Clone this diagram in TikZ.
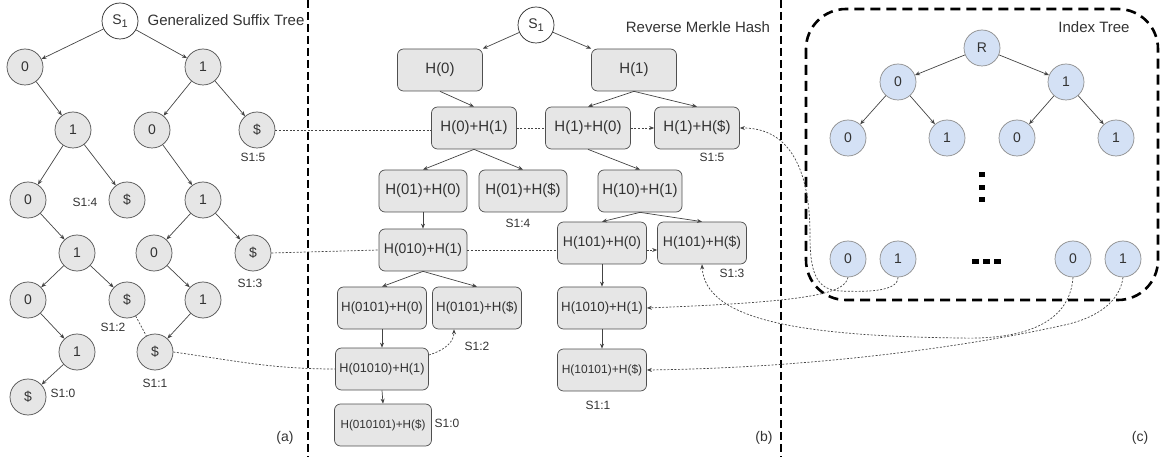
\documentclass[tikz,border=0pt]{standalone}
\usepackage{fontspec}
\setmainfont{Liberation Sans}
\usetikzlibrary{arrows.meta}
\definecolor{txt}{HTML}{333333}
\definecolor{grayfill}{HTML}{E6E6E6}
\definecolor{grayline}{HTML}{4F4F4F}
\definecolor{bluefill}{HTML}{D4E1F5}
\definecolor{blueline}{HTML}{8C8C8C}
\definecolor{edgecol}{HTML}{444444}
\definecolor{linkcol}{HTML}{444444}
\newcommand{\subone}{S\raisebox{-0.35ex}{\fontsize{11}{11}\selectfont 1}}
\begin{document}
\begin{tikzpicture}[x=1pt,y=-1pt,
  cnode/.style={circle, draw=grayline, fill=grayfill, line width=0.7pt,
    minimum size=36pt, inner sep=0pt, text=txt, font=\fontsize{14}{16}\selectfont},
  snode/.style={cnode, fill=white, draw=black!85},
  bnode/.style={cnode, fill=bluefill, draw=blueline},
  hbox/.style={rectangle, rounded corners=6pt, draw=grayline, fill=grayfill,
    line width=0.7pt, minimum height=42pt, inner sep=0pt, text=txt},
  hb/.style 2 args={hbox, minimum width=#1pt, font=\fontsize{#2}{#2}\selectfont},
  tedge/.style={draw=edgecol, line width=0.7pt, -{Stealth[length=5pt,width=4pt]}},
  dlink/.style={draw=linkcol, line width=0.7pt, dash pattern=on 2pt off 1.6pt},
  dlinkarrow/.style={dlink, -{Stealth[length=5pt,width=4pt]}},
  lbl/.style={font=\fontsize{12}{14}\selectfont, text=txt, inner sep=0pt},
  ttl/.style={font=\fontsize{15}{18}\selectfont, text=txt, inner sep=0pt},
  sep/.style={line width=2.6pt, dash pattern=on 8pt off 4pt}
]
\useasboundingbox (0,0) rectangle (1160,457);

% panel separators
\draw[sep] (308,0) -- (308,457);
\draw[sep] (781,0) -- (781,457);

% ---------- (a) generalized suffix tree ----------
\node[snode] (aS) at (120,21) {\subone};
\node[cnode] (a0) at (25,67) {0};
\node[cnode] (a1) at (203,67) {1};
\node[cnode] (a01) at (73,130) {1};
\node[cnode] (a10) at (152,130) {0};
\node[cnode] (a1d) at (257,130) {\$};
\node[cnode] (a010) at (28,200) {0};
\node[cnode] (a01d) at (127,200) {\$};
\node[cnode] (a101) at (203,200) {1};
\node[cnode] (a0101) at (77,253) {1};
\node[cnode] (a1010) at (154,253) {0};
\node[cnode] (a101d) at (253,253) {\$};
\node[cnode] (a01010) at (28,300) {0};
\node[cnode] (a0101d) at (127,300) {\$};
\node[cnode] (a10101) at (203,300) {1};
\node[cnode] (a010101) at (77,352) {1};
\node[cnode] (a10101d) at (155,352) {\$};
\node[cnode] (a010101d) at (28,397) {\$};

\node[ttl] (atitle) at (226,20) {Generalized Suffix Tree};
\node[lbl] (la4) at (85,202) {S1:4};
\node[lbl] (la5) at (253,157) {S1:5};
\node[lbl] (la3) at (250,283) {S1:3};
\node[lbl] (la2) at (113,327) {S1:2};
\node[lbl] (la1) at (155,383) {S1:1};
\node[lbl] (la0) at (63,393) {S1:0};
\node[font=\fontsize{14}{16}\selectfont, text=txt] (pa) at (285,438) {(a)};

\draw[tedge] (aS) -- (a0);
\draw[tedge] (aS) -- (a1);
\draw[tedge] (a0) -- (a01);
\draw[tedge] (a1) -- (a10);
\draw[tedge] (a1) -- (a1d);
\draw[tedge] (a01) -- (a010);
\draw[tedge] (a01) -- (a01d);
\draw[tedge] (a10) -- (a101);
\draw[tedge] (a010) -- (a0101);
\draw[tedge] (a101) -- (a1010);
\draw[tedge] (a101) -- (a101d);
\draw[tedge] (a0101) -- (a01010);
\draw[tedge] (a0101) -- (a0101d);
\draw[tedge] (a1010) -- (a10101);
\draw[tedge] (a01010) -- (a010101);
\draw[tedge] (a10101) -- (a10101d);
\draw[tedge] (a010101) -- (a010101d);
\draw[dlink] (a0101d) -- (a10101d);

% ---------- (b) reverse Merkle hash ----------
\node[snode] (bS) at (536,25) {\subone};
\node[hb={85}{15}] (h0) at (440,70) {H(0)};
\node[hb={85}{15}] (h1) at (634,70) {H(1)};
\node[hb={85}{15}] (h01) at (474,128) {H(0)+H(1)};
\node[hb={85}{15}] (h10) at (588,128) {H(1)+H(0)};
\node[hb={85}{15}] (h1d) at (697,128) {H(1)+H(\$)};
\node[hb={88}{15}] (h010) at (423,191) {H(01)+H(0)};
\node[hb={88}{15}] (h01d) at (523,191) {H(01)+H(\$)};
\node[hb={84}{15}] (h101) at (640,191) {H(10)+H(1)};
\node[hb={88}{14}] (h0101) at (423,250) {H(010)+H(1)};
\node[hb={89}{14}] (h1010) at (602,243) {H(101)+H(0)};
\node[hb={89}{14}] (h101d) at (702,243) {H(101)+H(\$)};
\node[hb={89}{13.3}] (h01010) at (382,308) {H(0101)+H(0)};
\node[hb={89}{13.3}] (h0101d) at (477,308) {H(0101)+H(\$)};
\node[hb={93}{12.7}] (h010101) at (382,369) {H(01010)+H(1)};
\node[hb={97}{11.7}] (h010101d) at (383,425) {H(010101)+H(\$)};
\node[hb={89}{13.3}] (h10101) at (602,308) {H(1010)+H(1)};
\node[hb={89}{12}] (h10101d) at (602,370) {H(10101)+H(\$)};

\node[ttl] (btitle) at (698,27) {Reverse Merkle Hash};
\node[lbl] (lb5) at (712,157) {S1:5};
\node[lbl] (lb4) at (518,223) {S1:4};
\node[lbl] (lb3) at (732,273) {S1:3};
\node[lbl] (lb2) at (477,346) {S1:2};
\node[lbl] (lb1) at (598,405) {S1:1};
\node[lbl] (lb0) at (447,423) {S1:0};
\node[font=\fontsize{14}{16}\selectfont, text=txt] (pb) at (764,438) {(b)};

\draw[tedge] (bS) -- (h0.north east);
\draw[tedge] (bS) -- (h1.north west);
\draw[tedge] (h0.south) -- (h01.north);
\draw[tedge] (h1.south) -- (h10.north);
\draw[tedge] (h1.south) -- (h1d.north);
\draw[tedge] (h01.south) -- (h010.north);
\draw[tedge] (h01.south) -- (h01d.north);
\draw[tedge] (h10.south) -- (h101.north);
\draw[tedge] (h010.south) -- (h0101.north);
\draw[tedge] (h101.south) -- (h1010.north);
\draw[tedge] (h101.south) -- (h101d.north);
\draw[tedge] (h0101.south) -- (h01010.north);
\draw[tedge] (h0101.south) -- (h0101d.north);
\draw[tedge] (h01010.south) -- (h010101.north);
\draw[tedge] (h010101.south) -- (h010101d.north);
\draw[tedge] (h1010.south) -- (h10101.north);
\draw[tedge] (h10101.south) -- (h10101d.north);

% ---------- (c) index tree ----------
\draw[line width=2.6pt, dash pattern=on 10pt off 6pt, rounded corners=40pt]
  (806,9) rectangle (1158,300);
\node[bnode] (cR) at (982,48) {R};
\node[bnode] (c0) at (898,82) {0};
\node[bnode] (c1) at (1066,82) {1};
\node[bnode] (c00) at (848,138) {0};
\node[bnode] (c01) at (947,138) {1};
\node[bnode] (c10) at (1017,138) {0};
\node[bnode] (c11) at (1116,138) {1};
\node[bnode] (d0) at (848,259) {0};
\node[bnode] (d1) at (898,259) {1};
\node[bnode] (e0) at (1073,259) {0};
\node[bnode] (e1) at (1123,259) {1};
\node[ttl] (ctitle) at (1094,27) {Index Tree};
\node[font=\fontsize{14}{16}\selectfont, text=txt] (pc) at (1140,438) {(c)};

\draw[tedge] (cR) -- (c0);
\draw[tedge] (cR) -- (c1);
\draw[tedge] (c0) -- (c00);
\draw[tedge] (c0) -- (c01);
\draw[tedge] (c1) -- (c10);
\draw[tedge] (c1) -- (c11);

% ellipsis marks
\foreach \yy in {175,188,200} \fill (979,\yy-2.5) rectangle (985,\yy+2.5);
\foreach \xx in {975,986,997} \fill (\xx-3.5,259.5) rectangle (\xx+3.5,264.5);

% ---------- dotted cross links ----------
\draw[dlink] (a1d.east) -- (h01.west |- a1d.east);
\draw[dlink] (h01.east) -- (h10.west);
\draw[dlinkarrow] (h10.east) -- (h1d.west);

\draw[dlink] (a101d.east) -- (h0101.west);
\draw[dlink] (h0101.east) -- (h0101.east -| h1010.west);
\draw[dlinkarrow] (h0101.east -| h1010.east) -- (h0101.east -| h101d.west);

\draw[dlink] (a10101d.east) to[out=-8,in=180] (h010101.west);
\draw[dlinkarrow] ([yshift=14pt]h010101.east) .. controls (445,350) and (454,342) .. ([xshift=-23pt]h0101d.south);

\draw[dlinkarrow] (d0.south) .. controls (845,295) and (800,302) .. (h10101.east);
\draw[dlinkarrow] (d1.south) .. controls (898,292) and (865,292) .. (840,291)
  .. controls (815,290) and (810,270) .. (810,235)
  .. controls (810,170) and (790,128) .. (h1d.east);
\draw[dlinkarrow] (e0.south) .. controls (1070,320) and (1030,340) .. (960,338)
  .. controls (800,336) and (705,320) .. (h101d.south);
\draw[dlinkarrow] (e1.south) .. controls (1120,300) and (1100,318) .. (1060,326)
  .. controls (950,350) and (800,368) .. (h10101d.east);
\end{tikzpicture}
\end{document}
